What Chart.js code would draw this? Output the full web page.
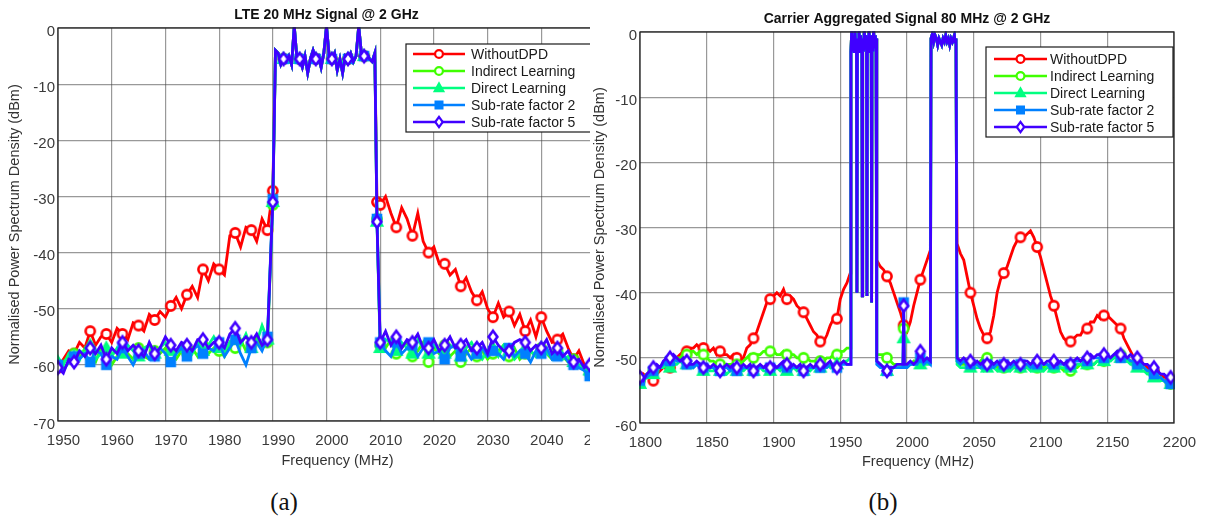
<!DOCTYPE html>
<html>
<head>
<meta charset="utf-8">
<script src="https://cdn.jsdelivr.net/npm/chart.js@4.4.1/dist/chart.umd.min.js"></script>
<style>
  body { margin: 0; background: #fff; width: 1205px; height: 525px; overflow: hidden; position: relative; }
  #wrapA { position: absolute; left: 0; top: 0; width: 590px; height: 480px; overflow: hidden; }
  #wrapB { position: absolute; left: 590px; top: 0; width: 615px; height: 480px; overflow: hidden; }
  .cap { position: absolute; top: 488px; transform: translateX(-50%); font-family: "Liberation Serif", "DejaVu Serif", serif; font-size: 25px; color: #111; }
</style>
</head>
<body>
<div id="wrapA"><canvas id="chartA" width="660" height="480"></canvas></div>
<div id="wrapB"><canvas id="chartB" width="615" height="480"></canvas></div>
<div class="cap" style="left:284px">(a)</div>
<div class="cap" style="left:883px">(b)</div>
<script>
// regular frequency grid helper
function range(a, b, step) {
  const out = [];
  for (let i = 0; a + i * step <= b + 1e-9; i++) out.push(+(a + i * step).toFixed(2));
  return out;
}

// ---------- (a) LTE 20 MHz ----------
const freqA_lo = range(1950, 1990, 1);
const freqA_band = range(1990.5, 2009, 0.5);
const freqA_hi = [2009.4].concat(range(2010, 2050, 1));

const bandA = [-4, -4.5, -6.5, -5.5, -6, -5, -6.5, 0.3, -5.5, -5.5, -7, -5, -8, -5.5, -4, -5.5, -5, -7, -4.5, 0.3,
  -5, -5.5, -4.5, -7.5, -5.5, -8, -5, -5.5, -4.5, -6, -5, 0.3, -4.5, -5, -4.5, -5.5, -6, -4.5];

const woDpdA_lo = [-60.5, -59, -57.5, -58, -56, -57, -54, -56.5, -55, -54.5, -56, -53.5, -54.5, -55.5, -52.5, -53, -54, -51, -52, -50.5,
  -51.5, -49.5, -48, -50, -47.5, -46, -48, -43, -45, -42, -43, -44, -37, -36.5, -39, -35.5, -36, -38, -34, -36, -29];
const woDpdA_hi = [-31, -31.5, -30, -33, -35.5, -32, -34, -37, -33, -38, -40, -39, -42, -42, -44, -43, -46, -44.5, -47, -48.5, -47,
  -50, -51.5, -49, -51.5, -50.5, -53, -51, -54, -52, -55, -51.5, -54, -56, -55.5, -54.5, -57, -59, -57.5, -60, -60.5, -61];

const indirA_lo = [-60, -59.5, -58.5, -58, -59, -57, -58.5, -59.5, -57, -58, -60, -58.5, -57.5, -58, -59, -57, -58.5, -59, -57.5, -58,
  -57, -58.5, -59, -57.5, -58, -57, -58.5, -56.5, -58, -57, -57.5, -58.5, -56, -57, -55.5, -57.5, -56.5, -55, -57, -56, -31.5];
const indirA_hi = [-34, -56.5, -57, -55.5, -58, -57, -56, -58.5, -57.5, -56, -59.5, -57, -58, -56.5, -58.5, -57.5, -59.5, -58, -57, -58.5, -57.5,
  -59, -58, -57.5, -56.5, -58.5, -57, -59, -58, -57.5, -58.5, -57, -58, -59, -57.5, -58.5, -59.5, -59, -60, -61, -61.5, -62.5];

const directA_lo = [-59.5, -60, -58, -58.5, -57.5, -58, -56.5, -59, -58, -57, -58.5, -57, -58, -56.5, -57.5, -58.5, -57, -56.5, -58, -57,
  -56, -57.5, -58, -56.5, -57, -58, -56, -57.5, -56.5, -55, -57, -57.5, -56, -55.5, -56.5, -54.5, -57, -56, -53, -55.5, -31];
const directA_hi = [-34.5, -57, -55.5, -56, -57.5, -56, -57, -58, -55.5, -57, -58, -56.5, -57.5, -58, -56.5, -57, -58.5, -57, -56, -58, -59,
  -57.5, -57, -58.5, -56.5, -57.5, -59, -58, -57, -57.5, -58.5, -57, -58, -58.5, -57.5, -59, -58.5, -59.5, -60, -60.5, -61, -62];

const sub2A_lo = [-60, -61, -59.5, -58.5, -59, -58, -59.5, -57.5, -58, -60, -58.5, -59, -57, -58.5, -60, -58, -57.5, -59, -58.5, -57,
  -58, -59.5, -58, -57, -58.5, -57.5, -56.5, -58, -57, -57.5, -56, -58.5, -57, -55.5, -58, -60, -57, -56, -57.5, -55, -30.5];
const sub2A_hi = [-34, -56, -57.5, -58.5, -56, -58, -57, -56.5, -58.5, -57, -56, -58, -57.5, -59, -57, -56.5, -58.5, -57.5, -59, -58, -57,
  -58.5, -57.5, -58, -59, -57, -58.5, -57.5, -58, -59.5, -57.5, -58, -57, -59, -58.5, -58, -59.5, -60, -60.5, -61, -62, -62];

const sub5A_lo = [-60.5, -61.5, -59, -59.5, -57.5, -58.5, -57, -58, -56.5, -59, -57, -58, -56, -57.5, -56.5, -57.5, -58.5, -56, -58, -57,
  -55, -56.5, -57.5, -56, -56.5, -57.5, -55.5, -55.5, -57, -56, -56, -57, -54.5, -53.5, -56, -55, -56, -54.5, -56.5, -55.5, -31];
const sub5A_hi = [-34.5, -56, -54, -56.5, -55, -57, -55.5, -56, -54.5, -57, -57, -55.5, -57.5, -56.5, -55, -57, -56.5, -55.5, -57.5, -57, -56,
  -58, -55, -56.5, -57.5, -57.5, -56, -55.5, -56, -57.5, -56.5, -57, -55.5, -58, -57, -58.5, -57.5, -59.5, -59, -60.5, -60, -61];

// ---------- (b) Carrier aggregated 80 MHz ----------
const freqB_1 = range(1800, 1957.5, 2.5);
const freqB_band1 = [1958, 1958.6, 1959.2, 1959.8, 1960.4, 1961, 1961.6, 1962.2, 1962.5, 1962.8, 1963.4, 1964, 1964.6, 1965.2, 1965.8,
  1966.2, 1966.5, 1966.8, 1967.4, 1968, 1968.6, 1969.2, 1969.7, 1970, 1970.3, 1970.9, 1971.5, 1972.1, 1972.7, 1973.2, 1973.5,
  1973.8, 1974.4, 1975, 1975.6, 1976.2, 1976.8, 1977.2];
const freqB_2 = [1977.5, 1980, 1982.5, 1985, 1987.5, 1990, 1992.5, 1995, 1997, 1997.5, 1998, 2000, 2002.5, 2005, 2007.5, 2010, 2012.5, 2015, 2017.5];
const freqB_band2 = [2018, 2019, 2020, 2021, 2022, 2023, 2024, 2025, 2026, 2027, 2028, 2029, 2030, 2031, 2032, 2033, 2034, 2035.5, 2036, 2036.7];
const freqB_3 = range(2037.5, 2200, 2.5);

const bandB1 = [-3, 0.3, -3, -0.5, -3, 0.3, -2.5, -1, -40, -1, -3, 0.3, -2.5, -0.5, -3, -1, -40.5, -1, -3, 0.3,
  -2.5, -0.5, -1.5, -40.5, -1, -3, 0.3, -2.5, -0.5, -2, -41.5, -1, -3, 0.3, -2.5, -0.5, -2, -1];
const bandB2 = [-1, -0.3, -1.5, -0.5, -1, -2, -1, -1.5, -2, -1, -1.5, -0.5, -1.5, -1, -2, -1, -1.5, -0.5, -1.5, -1];

const woDpdB_1 = [-53, -52.5, -53, -52.5, -53.5, -52.5, -52, -51.5, -51.5, -51.5, -50.5, -50, -49.5, -49, -49, -48.5, -48.5, -48, -48.5, -48.5,
  -48.5, -49, -48.5, -49.5, -49, -49.5, -49.5, -50, -49.5, -50, -50.5, -50, -48.5, -48, -47, -46, -44.5, -43, -41.5, -41,
  -40.5, -40, -40.5, -39.5, -41, -40.5, -41, -42, -42.5, -43, -44, -45, -46, -46.5, -47.5, -47.5, -46.5, -45, -44, -44,
  -41, -39.5, -38.5, -37];
const woDpdB_2 = [-35, -36, -36.5, -37.5, -38.5, -40, -41.5, -43, -44.5, -45, -45.5, -46, -44.5, -42, -40, -38, -36.5, -35, -33.5];
const woDpdB_3 = [-32.5, -34, -35, -37.5, -40, -42, -44, -45.5, -46.5, -47, -46, -43.5, -40, -38, -37, -36, -34.5, -33, -32, -31.5,
  -31.5, -31, -30.5, -31.5, -33, -34.5, -36.5, -38.5, -40.5, -42, -44, -46, -47, -47.5, -47.5, -47, -46.5, -46.5, -45.5, -45.5,
  -44.5, -44.5, -43.5, -44, -43.5, -43.5, -44, -44.5, -45, -45.5, -47, -48, -49, -50, -50.5, -51, -51, -51.5, -52, -52,
  -52.5, -52.5, -53, -53, -53.5, -53.5];

const indirB_1 = [-53.5, -53, -52.5, -52.5, -52, -51.5, -51.5, -51, -51, -51, -50.5, -50, -50, -49.5, -49.5, -49, -49, -49.5, -49, -49.5,
  -50, -50.5, -50.5, -51, -51, -51, -51, -51, -51, -51, -51, -50.5, -50, -49.5, -50, -49.5, -49.5, -49, -49, -49,
  -49, -49.5, -49.5, -49, -49.5, -49.5, -49.5, -50, -50, -50, -50, -50.5, -50.5, -50.5, -50.5, -50.5, -50, -50, -49.5, -49.5,
  -49, -49, -48.5, -48.5];
const indirB_2 = [-49.5, -49.5, -49.5, -50, -50.5, -51, -51, -51, -51, -45.5, -51, -51, -51, -50.5, -51, -50.5, -51, -50.5, -50.5];
const indirB_3 = [-50.5, -51, -51, -51, -51, -51, -51, -50.5, -50, -50, -50.5, -51, -51.5, -51, -51.5, -51, -51.5, -51, -51.5, -51.5,
  -51, -51.5, -51, -51.5, -51.5, -51.5, -51.5, -51, -51.5, -51.5, -51.5, -51.5, -52, -51.5, -52, -51.5, -51.5, -51, -51.5, -51,
  -51, -51, -50.5, -50.5, -50.5, -50.5, -50, -50, -49.5, -49.5, -50, -50.5, -50.5, -51, -51, -51.5, -51.5, -52, -52.5, -52.5,
  -53, -53, -53.5, -54, -54, -54.5];

const directB_1 = [-54, -53.5, -53, -52.5, -52.5, -52, -51.5, -51.5, -51, -51.5, -51, -51, -50.5, -51, -51, -51.5, -51.5, -51, -51.5, -52,
  -51.5, -52, -52, -51.5, -52, -52, -52.5, -52, -52, -52, -52, -52, -51.5, -52, -52, -52, -51.5, -52, -52, -52,
  -52, -51.5, -52, -51.5, -52, -52, -51.5, -52, -51.5, -52, -51.5, -52, -51.5, -51.5, -51.5, -51.5, -51, -51.5, -51, -51,
  -51, -50.5, -50.5, -50];
const directB_2 = [-50.5, -51, -51.5, -52, -52, -51.5, -51.5, -51.5, -51.5, -47, -51.5, -51.5, -51, -51, -51, -51, -51, -51, -51];
const directB_3 = [-51, -51.5, -51.5, -51.5, -51.5, -51.5, -51.5, -51.5, -52, -51.5, -51.5, -51.5, -52, -51.5, -51.5, -51.5, -52, -51.5, -51.5, -51.5,
  -51.5, -51.5, -52, -51.5, -51.5, -51.5, -52, -51.5, -51.5, -51.5, -52, -51.5, -51.5, -52, -51.5, -51.5, -51, -51, -51, -51,
  -51, -51, -50.5, -50.5, -50.5, -50.5, -50.5, -50, -50, -50, -50.5, -50.5, -51, -51, -51.5, -52, -52, -52.5, -52.5, -53,
  -53, -53.5, -53.5, -54, -54, -54.5];

const sub2B_1 = [-53.5, -53, -53, -52.5, -52, -51.5, -51.5, -51, -50.5, -50.5, -50, -50.5, -50.5, -50.5, -51, -51, -51.5, -51, -51.5, -51.5,
  -51.5, -51.5, -51.5, -52, -52, -51.5, -51.5, -52, -51.5, -52, -52, -51.5, -51.5, -51.5, -52, -51.5, -51.5, -51.5, -51.5, -51.5,
  -51.5, -51.5, -51.5, -51, -51.5, -51.5, -51.5, -51.5, -51.5, -52, -51.5, -51.5, -51.5, -51.5, -51.5, -51.5, -51.5, -51, -51.5, -51.5,
  -51, -51, -51, -51];
const sub2B_2 = [-51, -51.5, -51.5, -52, -51.5, -51.5, -51.5, -51.5, -51.5, -41.5, -51.5, -51.5, -51, -51, -51, -50, -51, -50.5, -51];
const sub2B_3 = [-50.5, -51, -50.5, -51, -51, -51, -51, -51.5, -51, -51, -51, -51.5, -51, -51, -51, -51, -51.5, -51, -51, -51,
  -51, -51, -51.5, -51, -51, -51, -51, -51, -51.5, -51, -51, -51, -51, -51.5, -51, -50.5, -50.5, -50.5, -50.5, -50.5,
  -50, -50, -50, -50, -50, -50, -50, -49.5, -49.5, -50, -50, -50, -50.5, -50.5, -51, -51, -51.5, -52, -52, -52.5,
  -53, -53, -53.5, -54, -54, -54.5];

const sub5B_1 = [-53, -53.5, -52.5, -52, -51.5, -51, -51.5, -50.5, -50, -50, -49.5, -50, -50.5, -50, -50.5, -51, -51, -50.5, -51, -51.5,
  -51, -51.5, -51, -51.5, -52, -51.5, -51, -51.5, -51, -51.5, -51.5, -51, -51.5, -51, -52, -51.5, -51, -51.5, -51, -51.5,
  -51, -51.5, -51, -50.5, -51, -51.5, -51, -51.5, -51, -52, -51.5, -51, -51.5, -51, -51, -51.5, -51, -50.5, -51.5, -51.5,
  -51, -50.5, -51, -51];
const sub5B_2 = [-50.5, -51, -51.5, -52, -51.5, -51.5, -51, -51, -51, -42, -51, -51, -50.5, -51, -50.5, -49, -50.5, -50, -50.5];
const sub5B_3 = [-50, -50.5, -50, -50.5, -50.5, -51, -50.5, -51, -50.5, -51, -50.5, -51, -50.5, -51, -51, -50.5, -51, -50.5, -51, -51,
  -50.5, -50.5, -51, -50.5, -50.5, -50.5, -51, -50.5, -50.5, -50.5, -51, -50.5, -51, -50.5, -51, -50.5, -50, -50.5, -50, -50,
  -49.5, -50, -49.5, -49.5, -49.5, -49.5, -50, -49.5, -49, -49.5, -49.5, -50, -49.5, -50, -50, -50.5, -51, -51, -51.5, -51.5,
  -52, -52.5, -52.5, -53, -53, -53.5];

// ---------- styling ----------
const SERIES = [
  { label: 'WithoutDPD', color: '#ff0000', shape: 'circle' },
  { label: 'Indirect Learning', color: '#40ff00', shape: 'circle' },
  { label: 'Direct Learning', color: '#00ff80', shape: 'triangle' },
  { label: 'Sub-rate factor 2', color: '#0080ff', shape: 'square' },
  { label: 'Sub-rate factor 5', color: '#4000ff', shape: 'diamond' }
];
const FONT = '"Liberation Sans", Arial, Helvetica, sans-serif';
const TICK_COLOR = '#3a3a3a';
const GRID = 'rgba(70,70,70,0.55)';

function drawMarker(ctx, shape, color, x, y, k) {
  ctx.save();
  ctx.translate(x, y);
  ctx.scale(k, k);
  ctx.lineWidth = 2.6;
  ctx.strokeStyle = color;
  ctx.beginPath();
  if (shape === 'circle') {
    ctx.arc(0, 0, 4.6, 0, Math.PI * 2);
    ctx.fillStyle = '#fff';
  } else if (shape === 'triangle') {
    ctx.moveTo(0, -5.2); ctx.lineTo(5, 3.8); ctx.lineTo(-5, 3.8); ctx.closePath();
    ctx.fillStyle = color;
  } else if (shape === 'square') {
    ctx.rect(-4, -4, 8, 8);
    ctx.fillStyle = color;
  } else {
    ctx.moveTo(0, -6); ctx.lineTo(4.4, 0); ctx.lineTo(0, 6); ctx.lineTo(-4.4, 0); ctx.closePath();
    ctx.fillStyle = '#fff';
  }
  ctx.fill();
  ctx.stroke();
  ctx.restore();
}

function markerImg(shape, color) {
  const c = document.createElement('canvas');
  c.width = 18; c.height = 18;
  drawMarker(c.getContext('2d'), shape, color, 9, 9, 1);
  return c;
}

const deco = {
  id: 'deco',
  afterDraw(chart, args, o) {
    const { ctx, chartArea: a } = chart;
    const cx = (a.left + a.right) / 2;
    ctx.save();
    ctx.strokeStyle = '#262626';
    ctx.lineWidth = 1.3;
    ctx.strokeRect(a.left, a.top, a.right - a.left, a.bottom - a.top);

    ctx.textAlign = 'center';
    ctx.textBaseline = 'middle';
    ctx.fillStyle = '#111';
    ctx.font = 'bold 14px ' + FONT;
    ctx.fillText(o.title, cx, o.titleY);

    ctx.fillStyle = '#333';
    ctx.font = '14.5px ' + FONT;
    ctx.fillText('Frequency (MHz)', cx + o.xTitleDx, o.xTitleY);
    ctx.save();
    ctx.translate(o.yTitleX, (a.top + a.bottom) / 2);
    ctx.rotate(-Math.PI / 2);
    ctx.fillText('Normalised Power Spectrum Density (dBm)', 0, 0);
    ctx.restore();

    const L = o.legend;
    ctx.fillStyle = '#fff';
    ctx.fillRect(L.x, L.y, L.w, L.h);
    ctx.strokeStyle = '#1a1a1a';
    ctx.lineWidth = 1.2;
    ctx.strokeRect(L.x, L.y, L.w, L.h);
    ctx.font = '14px ' + FONT;
    ctx.textAlign = 'left';
    SERIES.forEach((s, i) => {
      const y = L.y + L.row0 + i * 17;
      ctx.strokeStyle = s.color;
      ctx.lineWidth = 2.6;
      ctx.beginPath();
      ctx.moveTo(L.x + L.line0, y);
      ctx.lineTo(L.x + L.line1, y);
      ctx.stroke();
      drawMarker(ctx, s.shape, s.color, L.x + (L.line0 + L.line1) / 2, y, 0.85);
      ctx.fillStyle = '#1a1a1a';
      ctx.fillText(s.label, L.x + L.text, y + 1);
    });
    ctx.restore();
  }
};

function makeDatasets(freq, series, mark) {
  return SERIES.map((s, i) => ({
    label: s.label,
    data: freq.map((x, k) => ({ x: x, y: series[i][k] })),
    borderColor: s.color,
    borderWidth: 2.8,
    pointStyle: markerImg(s.shape, s.color),
    pointRadius: c => (c.raw && mark(c.raw.x) ? 5 : 0),
    pointHoverRadius: 0,
    tension: 0,
    fill: false,
    clip: 1,
    order: 5 - i
  }));
}

function makeChart(id, cfg) {
  const tickFont = { family: FONT, size: 15 };
  return new Chart(document.getElementById(id), {
    type: 'line',
    data: { datasets: makeDatasets(cfg.freq, cfg.series, cfg.mark) },
    options: {
      responsive: false,
      animation: false,
      events: [],
      layout: { padding: cfg.pad },
      plugins: { legend: { display: false }, tooltip: { enabled: false }, deco: cfg.deco },
      scales: {
        x: {
          type: 'linear', min: cfg.xMin, max: cfg.xMax,
          afterFit: s => { s.height = cfg.xH; },
          ticks: { stepSize: cfg.xStep, autoSkip: false, maxRotation: 0, padding: 11, labelOffset: 5.5,
                   color: TICK_COLOR, font: tickFont, callback: v => String(v) },
          grid: { color: GRID, lineWidth: 1.2, drawTicks: false },
          border: { display: false }
        },
        y: {
          min: cfg.yMin, max: 0,
          afterFit: s => { s.width = cfg.yW; },
          ticks: { stepSize: 10, padding: 3, labelOffset: 3.5, color: TICK_COLOR, font: tickFont },
          grid: { color: GRID, lineWidth: 1.2, drawTicks: false },
          border: { display: false }
        }
      }
    },
    plugins: [deco]
  });
}

const freqA = freqA_lo.concat(freqA_band, freqA_hi);
makeChart('chartA', {
  freq: freqA,
  series: [
    woDpdA_lo.concat(bandA, woDpdA_hi),
    indirA_lo.concat(bandA, indirA_hi),
    directA_lo.concat(bandA, directA_hi),
    sub2A_lo.concat(bandA, sub2A_hi),
    sub5A_lo.concat(bandA, sub5A_hi)
  ],
  mark: x => (Number.isInteger(x) && (x - 1950) % 3 === 0) || x === 1990 || x === 2009.4,
  xMin: 1950, xMax: 2050, xStep: 10, yMin: -70,
  pad: { left: 0, top: 28, right: 65, bottom: 0 },
  xH: 59, yW: 58,
  deco: {
    title: 'LTE 20 MHz Signal @ 2 GHz', titleY: 15,
    xTitleY: 461, xTitleDx: 11, yTitleX: 15,
    legend: { x: 406, y: 44, w: 186, h: 88, row0: 10, line0: 7, line1: 59, text: 65 }
  }
});

const freqB = freqB_1.concat(freqB_band1, freqB_2, freqB_band2, freqB_3);
makeChart('chartB', {
  freq: freqB,
  series: [
    woDpdB_1.concat(bandB1, woDpdB_2, bandB2, woDpdB_3),
    indirB_1.concat(bandB1, indirB_2, bandB2, indirB_3),
    directB_1.concat(bandB1, directB_2, bandB2, directB_3),
    sub2B_1.concat(bandB1, sub2B_2, bandB2, sub2B_3),
    sub5B_1.concat(bandB1, sub5B_2, bandB2, sub5B_3)
  ],
  mark: x => x === 1800 || (x >= 1810 && Math.abs((x - 1810) / 12.5 - Math.round((x - 1810) / 12.5)) < 1e-6),
  xMin: 1800, xMax: 2200, xStep: 50, yMin: -60,
  pad: { left: 0, top: 32, right: 31, bottom: 0 },
  xH: 57, yW: 50,
  deco: {
    title: 'Carrier Aggregated Signal 80 MHz @ 2 GHz', titleY: 19,
    xTitleY: 462, xTitleDx: 11, yTitleX: 10,
    legend: { x: 396, y: 47, w: 187, h: 90, row0: 12, line0: 8, line1: 61, text: 64 }
  }
});
</script>
</body>
</html>
